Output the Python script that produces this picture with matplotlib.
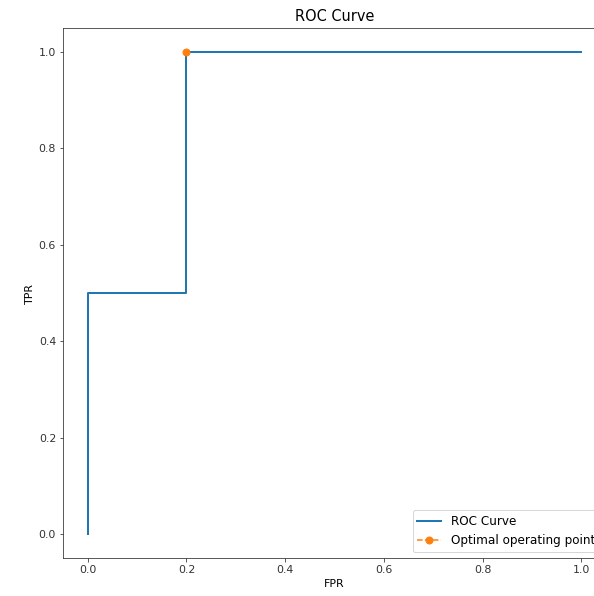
import numpy as np
import matplotlib
matplotlib.use("Agg")
import matplotlib.pyplot as plt

# datos de la curva ROC
fpr = [0.0, 0.0, 0.2, 0.2, 1.0]
tpr = [0.0, 0.5, 0.5, 1.0, 1.0]
opt_fpr = [0.2]
opt_tpr = [1.0]

plt.rcParams["axes.edgecolor"] = "#333333"
plt.rcParams["xtick.color"] = "#333333"
plt.rcParams["ytick.color"] = "#333333"

fig = plt.figure(figsize=(594 / 72, 596 / 72), dpi=72)
# el eje derecho queda fuera de la imagen (como en la original recortada)
ax = fig.add_axes([63 / 594, 1 - 558 / 596, 543 / 594, 530 / 596])

ax.plot(fpr, tpr, lw=2, label="ROC Curve")
ax.plot(opt_fpr, opt_tpr, "o--", ms=7, label="Optimal operating point")
ax.set_title("ROC Curve", fontsize=14.5, pad=7)
ax.set_xlabel("FPR", fontsize=11)
ax.set_ylabel("TPR", fontsize=11)
ax.tick_params(labelsize=11)
ax.legend(loc="lower right", fontsize=12)

fig.savefig("out.png", dpi=72)
